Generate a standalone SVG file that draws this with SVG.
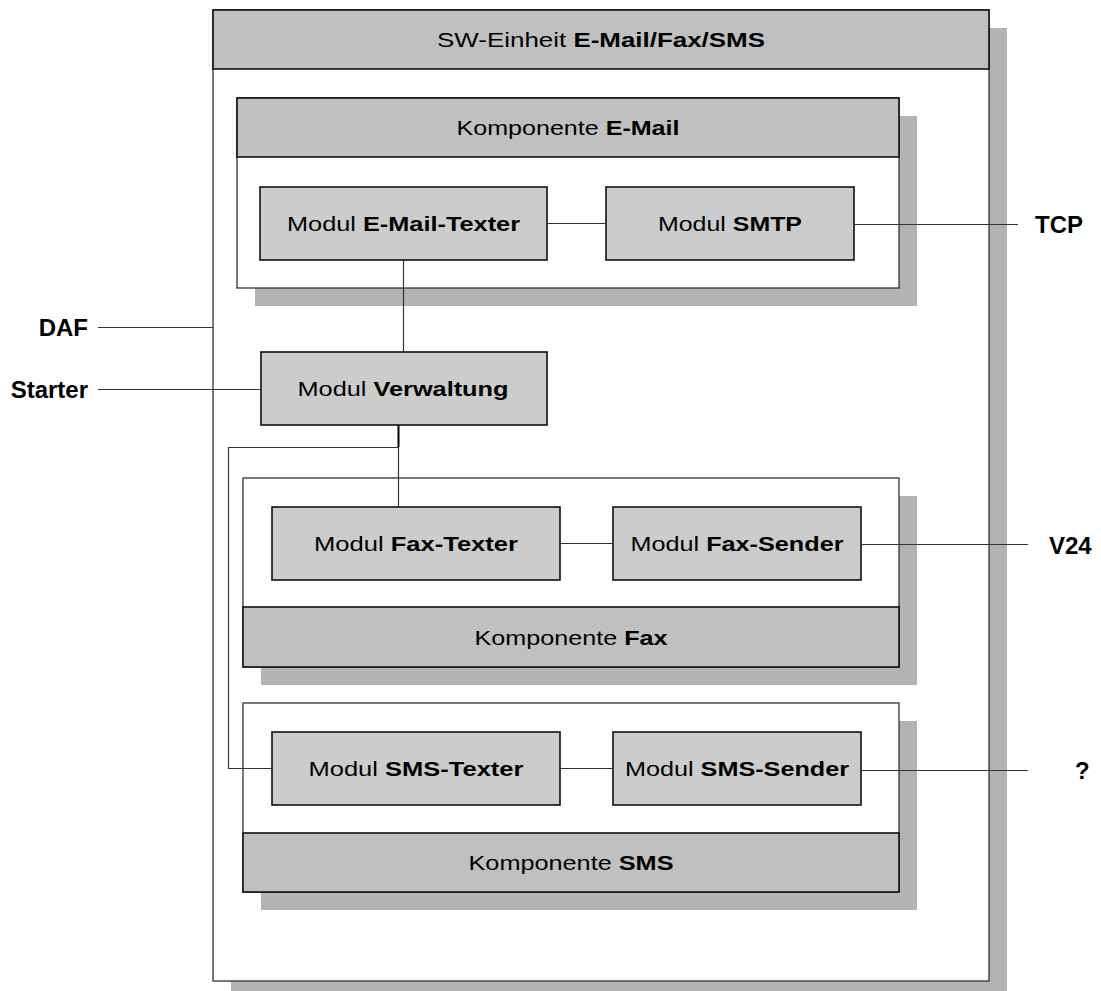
<svg xmlns="http://www.w3.org/2000/svg" width="1101" height="991" viewBox="0 0 1101 991">
<style>
.shadow{fill:#b3b3b3;stroke:none}
.body{fill:#ffffff;stroke:#333;stroke-width:1.3}
.head{fill:#c0c0c0;stroke:#111;stroke-width:1.6}
.mod{fill:#cccccc;stroke:#111;stroke-width:1.6}
.t{font-family:"Liberation Sans",Arial,sans-serif;font-size:21px;fill:#000;text-anchor:middle}
.b{font-weight:bold}
.lbl{font-family:"Liberation Sans",Arial,sans-serif;font-size:24px;font-weight:bold;fill:#000}
.con{fill:none;stroke:#333;stroke-width:1.2}
</style>
<rect width="1101" height="991" fill="#ffffff"/>
<g id="sw-einheit">
<rect class="shadow" x="231" y="28" width="776" height="971"/>
<rect class="body" x="213" y="10" width="776" height="971"/>
<rect class="head" x="213" y="10" width="776" height="59"/>
<text class="t" x="601" y="47" textLength="328" lengthAdjust="spacingAndGlyphs">SW-Einheit <tspan class="b">E-Mail/Fax/SMS</tspan></text>
</g>
<g id="komponente-email">
<rect class="shadow" x="255" y="116" width="662" height="190"/>
<rect class="body" x="237" y="98" width="662" height="190"/>
<rect class="head" x="237" y="98" width="662" height="59"/>
<text class="t" x="568" y="135" textLength="223" lengthAdjust="spacingAndGlyphs">Komponente <tspan class="b">E-Mail</tspan></text>
</g>
<g id="komponente-fax">
<rect class="shadow" x="261" y="496" width="656" height="189"/>
<rect class="body" x="243" y="478" width="656" height="189"/>
<rect class="head" x="243" y="607" width="656" height="60"/>
<text class="t" x="571" y="645" textLength="193" lengthAdjust="spacingAndGlyphs">Komponente <tspan class="b">Fax</tspan></text>
</g>
<g id="komponente-sms">
<rect class="shadow" x="261" y="721" width="656" height="189"/>
<rect class="body" x="243" y="703" width="656" height="189"/>
<rect class="head" x="243" y="833" width="656" height="59"/>
<text class="t" x="571" y="870" textLength="205" lengthAdjust="spacingAndGlyphs">Komponente <tspan class="b">SMS</tspan></text>
</g>
<g id="modul-email-texter">
<rect class="mod" x="260" y="187" width="287" height="73"/>
<text class="t" x="403.5" y="231" textLength="233" lengthAdjust="spacingAndGlyphs">Modul <tspan class="b">E-Mail-Texter</tspan></text>
</g>
<g id="modul-smtp">
<rect class="mod" x="606" y="187" width="248" height="73"/>
<text class="t" x="730" y="231" textLength="144" lengthAdjust="spacingAndGlyphs">Modul <tspan class="b">SMTP</tspan></text>
</g>
<g id="modul-verwaltung">
<rect class="mod" x="261" y="352" width="286" height="73"/>
<text class="t" x="403" y="396" textLength="211" lengthAdjust="spacingAndGlyphs">Modul <tspan class="b">Verwaltung</tspan></text>
</g>
<g id="modul-fax-texter">
<rect class="mod" x="272" y="507" width="288" height="73"/>
<text class="t" x="416" y="551" textLength="204" lengthAdjust="spacingAndGlyphs">Modul <tspan class="b">Fax-Texter</tspan></text>
</g>
<g id="modul-fax-sender">
<rect class="mod" x="613" y="507" width="248" height="73"/>
<text class="t" x="737" y="551" textLength="213" lengthAdjust="spacingAndGlyphs">Modul <tspan class="b">Fax-Sender</tspan></text>
</g>
<g id="modul-sms-texter">
<rect class="mod" x="272" y="732" width="288" height="73"/>
<text class="t" x="416" y="776" textLength="215" lengthAdjust="spacingAndGlyphs">Modul <tspan class="b">SMS-Texter</tspan></text>
</g>
<g id="modul-sms-sender">
<rect class="mod" x="613" y="732" width="248" height="73"/>
<text class="t" x="737" y="776" textLength="224" lengthAdjust="spacingAndGlyphs">Modul <tspan class="b">SMS-Sender</tspan></text>
</g>
<g id="labels">
<text class="lbl" x="88" y="336" text-anchor="end">DAF</text>
<text class="lbl" x="88" y="398" text-anchor="end">Starter</text>
<text class="lbl" x="1035" y="233">TCP</text>
<text class="lbl" x="1049" y="554">V24</text>
<text class="lbl" x="1075" y="779">?</text>
</g>
<g id="connectors">
<line class="con" x1="547" y1="223.5" x2="606" y2="223.5"/>
<line class="con" x1="854" y1="224.5" x2="1018" y2="224.5"/>
<line class="con" x1="403.5" y1="260" x2="403.5" y2="352"/>
<line class="con" x1="98" y1="327.5" x2="213" y2="327.5"/>
<line class="con" x1="98" y1="389.5" x2="261" y2="389.5"/>
<line class="con" x1="398.5" y1="425" x2="398.5" y2="447" style="stroke:#000;stroke-width:2"/>
<polyline class="con" points="398.5,447.5 228.5,447.5 228.5,768.5 272,768.5"/>
<line class="con" x1="398.5" y1="447" x2="398.5" y2="507"/>
<line class="con" x1="560" y1="543.5" x2="613" y2="543.5"/>
<line class="con" x1="861" y1="544.5" x2="1028" y2="544.5"/>
<line class="con" x1="560" y1="768.5" x2="613" y2="768.5"/>
<line class="con" x1="861" y1="770.5" x2="1028" y2="770.5"/>
</g>
</svg>
